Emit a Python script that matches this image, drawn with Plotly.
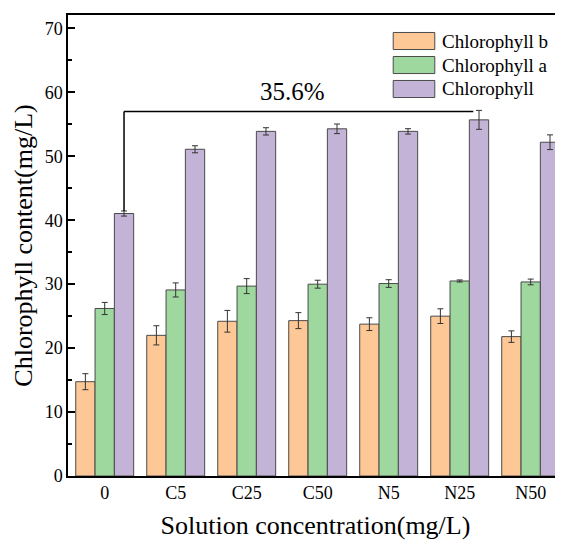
import plotly.graph_objects as go

categories = ["0", "C5", "C25", "C50", "N5", "N25", "N50"]
series_names = ["Chlorophyll b", "Chlorophyll a", "Chlorophyll"]
chl_b = [14.75, 22.0, 24.2, 24.3, 23.75, 25.0, 21.8]
chl_b_err = [1.25, 1.5, 1.7, 1.25, 1.0, 1.15, 0.9]
chl_a = [26.2, 29.1, 29.7, 30.0, 30.1, 30.5, 30.35]
chl_a_err = [0.95, 1.1, 1.17, 0.62, 0.6, 0.16, 0.45]
chl = [41.05, 51.1, 53.9, 54.3, 53.9, 55.7, 52.2]
chl_err = [0.4, 0.55, 0.57, 0.75, 0.42, 1.48, 1.15]
annotation_text = "35.6%"
yticks = [0, 10, 20, 30, 40, 50, 60, 70]

colors = ["#FDC895", "#9ED89E", "#C2B3D7"]
values = [chl_b, chl_a, chl]
errors = [chl_b_err, chl_a_err, chl_err]

FONT = "Liberation Serif"
fig = go.Figure()
for name, v, e, c in zip(series_names, values, errors, colors):
    fig.add_trace(go.Bar(
        x=categories, y=v, name=name,
        marker=dict(color=c, line=dict(color="#4a4a4a", width=1)),
        error_y=dict(type="data", array=e, visible=True, color="#333333",
                     thickness=1, width=3),
        showlegend=False,
    ))

bw = 0.272
# bracket
y0 = chl[0] + chl_err[0]
yb = 57.0
fig.add_shape(type="line", xref="x", yref="y", x0=bw, x1=bw, y0=y0, y1=yb,
              line=dict(color="black", width=1.5))
fig.add_shape(type="line", xref="x", yref="y", x0=bw, x1=5 + bw - 0.08, y0=yb, y1=yb,
              line=dict(color="black", width=1.5))
fig.add_annotation(x=2.65, y=60.2, xref="x", yref="y", text=annotation_text,
                   showarrow=False, font=dict(family=FONT, size=25, color="black"))

# custom legend
row_y = [0.9436, 0.8915, 0.8395]
for name, c, ry in zip(series_names, colors, row_y):
    fig.add_shape(type="rect", xref="paper", yref="paper",
                  x0=0.657, x1=0.741, y0=ry - 0.0185, y1=ry + 0.0185,
                  fillcolor=c, line=dict(color="#4a4a4a", width=1))
    fig.add_annotation(x=0.7515, y=ry, xref="paper", yref="paper", text=name,
                       xanchor="left", yanchor="middle", showarrow=False,
                       font=dict(family=FONT, size=19, color="black"))

fig.update_layout(
    width=555, height=532,
    margin=dict(l=60, r=0, t=7, b=64),
    barmode="group", bargap=0.184, bargroupgap=0,
    plot_bgcolor="white", paper_bgcolor="white",
    font=dict(family=FONT, color="black"),
    showlegend=False,
)
fig.update_xaxes(
    type="category", range=[-0.517, 6.455],
    showline=True, linecolor="black", linewidth=1.5, mirror=True,
    ticks="", showgrid=False,
    tickfont=dict(family=FONT, size=18, color="black"),
    title=dict(text="Solution concentration(mg/L)",
               font=dict(family=FONT, size=26, color="black"), standoff=16),
)
fig.update_yaxes(
    range=[0, 72.1], tickvals=yticks,
    showline=True, linecolor="black", linewidth=1.5, mirror=False,
    ticks="inside", ticklen=7, tickwidth=1.5, tickcolor="black",
    minor=dict(dtick=5, ticks="inside", ticklen=4, tickwidth=1.5, tickcolor="black", showgrid=False),
    showgrid=False, zeroline=False,
    tickfont=dict(family=FONT, size=18, color="black"),
    title=dict(text="Chlorophyll content(mg/L)",
               font=dict(family=FONT, size=26, color="black"), standoff=5),
)

fig.write_html("out.html")
